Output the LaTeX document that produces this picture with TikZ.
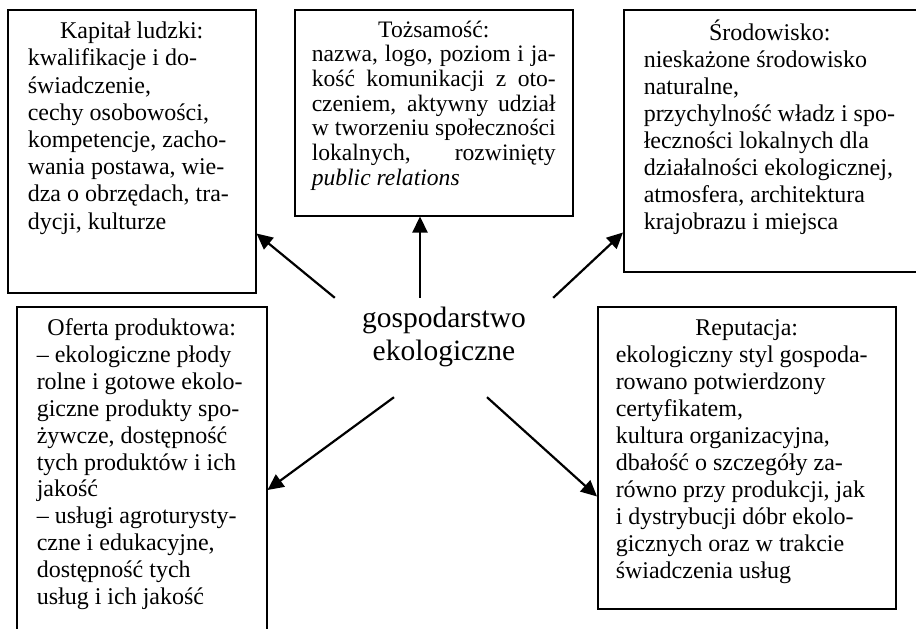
\documentclass[tikz,border=0pt]{standalone}
\usepackage{fontspec}
\setmainfont{Liberation Serif}
\usetikzlibrary{arrows.meta}

\newcommand{\boxfont}{\fontsize{24}{27.2}\selectfont}
\newcommand{\ekofont}{\fontsize{29.5}{33}\selectfont}

\tikzset{
  infobox/.style={draw, line width=1.5pt, anchor=north west, inner xsep=20pt, inner ysep=10pt, font=\boxfont},
  >={Triangle[length=16pt,width=15pt]},
}

\begin{document}
\begin{tikzpicture}[x=1pt,y=-1pt]
\useasboundingbox (0,0) rectangle (916,629);

\node[infobox] (kap) at (7,9) {\parbox[t][263pt][t]{208pt}{\centering\strut Kapitał ludzki:\par
\raggedright kwalifikacje i do-\\
świadczenie,\\
cechy osobowości,\\
kompetencje, zacho-\\
wania postawa, wie-\\
dza o obrzędach, tra-\\
dycji, kulturze}};

\node[infobox, inner xsep=17pt, font=\fontsize{23.6}{24.7}\selectfont] (toz) at (294,9) {\parbox[t][186pt][t]{244pt}{\centering\strut Tożsamość:\par
\raggedright\makebox[\linewidth][s]{nazwa, logo, poziom i ja-}\\
\makebox[\linewidth][s]{kość komunikacji z oto-}\\
\makebox[\linewidth][s]{czeniem, aktywny udział}\\
\makebox[\linewidth][s]{w tworzeniu społeczności}\\
\makebox[\linewidth][s]{lokalnych, rozwinięty}\\
\textit{public relations}}};

\node[infobox, font=\fontsize{24}{27}\selectfont] (sro) at (623,9) {\parbox[t][242pt][t]{252pt}{\centering\strut Środowisko:\par
\raggedright nieskażone środowisko\\
naturalne,\\
przychylność władz i spo-\\
łeczności lokalnych dla\\
działalności ekologicznej,\\
atmosfera, architektura\\
krajobrazu i miejsca}\hspace*{40pt}};

\node[infobox, font=\fontsize{24}{26.9}\selectfont] (ofe) at (16,306) {\parbox[t][330pt][t]{210pt}{\centering\strut Oferta produktowa:\par
\raggedright – ekologiczne płody\\
rolne i gotowe ekolo-\\
giczne produkty spo-\\
żywcze, dostępność\\
tych produktów i ich\\
jakość\\
– usługi agroturysty-\\
czne i edukacyjne,\\
dostępność tych\\
usług i ich jakość}};

\node[infobox, inner xsep=18pt, font=\fontsize{24}{27}\selectfont] (rep) at (597,306) {\parbox[t][282pt][t]{262pt}{\centering\strut Reputacja:\par
\raggedright ekologiczny styl gospoda-\\
rowano potwierdzony\\
certyfikatem,\\
kultura organizacyjna,\\
dbałość o szczegóły za-\\
równo przy produkcji, jak\\
i dystrybucji dóbr ekolo-\\
gicznych oraz w trakcie\\
świadczenia usług}};

\node[text width=218pt, align=center, inner sep=0pt, text height=29pt, text depth=70pt, font=\ekofont] (eko) at (444,347.5) {gospodarstwo\\ekologiczne};

\draw[->, line width=2.2pt] (eko.north west) -- ([yshift=60pt]kap.south east);
\draw[->, line width=2.2pt] ([xshift=-24pt]eko.north) -- ([xshift=-24pt]eko.north |- toz.south);
\draw[->, line width=2.2pt] (eko.north east) -- ([yshift=40pt]sro.south west);
\draw[->, line width=2.2pt] ([xshift=-50pt]eko.south) -- ([yshift=-184pt]ofe.north east);
\draw[->, line width=2.2pt] ([xshift=43pt]eko.south) -- ([yshift=113pt]rep.south west);
\end{tikzpicture}
\end{document}
